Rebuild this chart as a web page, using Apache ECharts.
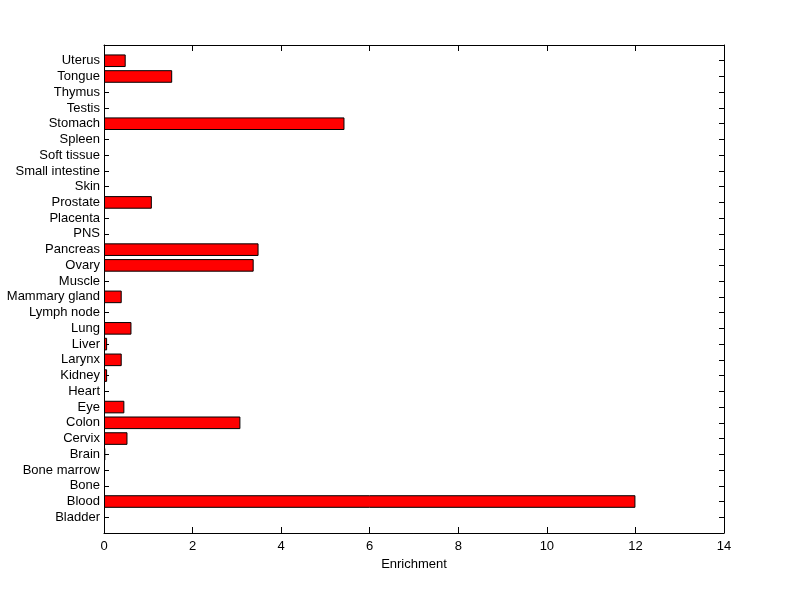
<!DOCTYPE html>
<html>
<head>
<meta charset="utf-8">
<script src="https://cdn.jsdelivr.net/npm/echarts@6/dist/echarts.min.js"></script>
<style>html,body{margin:0;padding:0;background:#fff;}#c{width:800px;height:599px;}</style>
</head>
<body>
<div id="c"></div>
<script>
const categories = ['Bladder','Blood','Bone','Bone marrow','Brain','Cervix','Colon','Eye','Heart','Kidney','Larynx','Liver','Lung','Lymph node','Mammary gland','Muscle','Ovary','Pancreas','PNS','Placenta','Prostate','Skin','Small intestine','Soft tissue','Spleen','Stomach','Testis','Thymus','Tongue','Uterus'];
const enrichment = [0, 12.0, 0, 0, 0.03, 0.53, 3.08, 0.46, 0, 0.07, 0.40, 0.07, 0.62, 0, 0.40, 0, 3.38, 3.49, 0, 0, 1.08, 0, 0, 0, 0, 5.43, 0, 0, 1.54, 0.49];
const xTicks = {min: 0, max: 14, interval: 2};
const xName = 'Enrichment';

const axisCats = [''].concat(categories).concat(['']);
const seriesData = ['-'].concat(enrichment.map(v => v === 0 ? '-' : v)).concat(['-']);

const font = 'Liberation Sans, Arial, sans-serif';
const chart = echarts.init(document.getElementById('c'), null, {renderer: 'canvas'});
const lineStyle = {color: '#000', width: 1};
chart.setOption({
  animation: false,
  backgroundColor: '#fff',
  grid: {left: 104, top: 45, width: 620, height: 488, containLabel: false},
  xAxis: [{
    type: 'value', position: 'bottom', min: xTicks.min, max: xTicks.max, interval: xTicks.interval,
    name: xName, nameLocation: 'middle', nameGap: 23,
    nameTextStyle: {color: '#000', fontSize: 13, fontFamily: font},
    axisLine: {show: true, onZero: false, lineStyle: lineStyle},
    axisTick: {show: true, inside: true, length: 6, lineStyle: lineStyle},
    axisLabel: {color: '#000', fontSize: 13, fontFamily: font, margin: 7},
    splitLine: {show: false}
  }, {
    type: 'value', position: 'top', min: xTicks.min, max: xTicks.max, interval: xTicks.interval,
    axisLine: {show: true, onZero: false, lineStyle: lineStyle},
    axisTick: {show: true, inside: true, length: 6, lineStyle: lineStyle},
    axisLabel: {show: false},
    splitLine: {show: false}
  }],
  yAxis: [{
    type: 'category', position: 'left', data: axisCats, boundaryGap: false,
    axisLine: {show: true, onZero: false, lineStyle: lineStyle},
    axisTick: {show: true, inside: true, length: 5, lineStyle: lineStyle, interval: 0},
    axisLabel: {color: '#000', fontSize: 13, fontFamily: font, margin: 4, interval: 0},
    splitLine: {show: false}
  }, {
    type: 'category', position: 'right', data: axisCats, boundaryGap: false,
    axisLine: {show: true, onZero: false, lineStyle: lineStyle},
    axisTick: {show: true, inside: true, length: 5, lineStyle: lineStyle, interval: 0},
    axisLabel: {show: false},
    splitLine: {show: false}
  }],
  series: [{
    type: 'bar', xAxisIndex: 0, yAxisIndex: 0,
    data: seriesData, barWidth: '80%',
    itemStyle: {color: '#ff0000', borderColor: '#000', borderWidth: 1}
  }]
});
</script>
</body>
</html>
